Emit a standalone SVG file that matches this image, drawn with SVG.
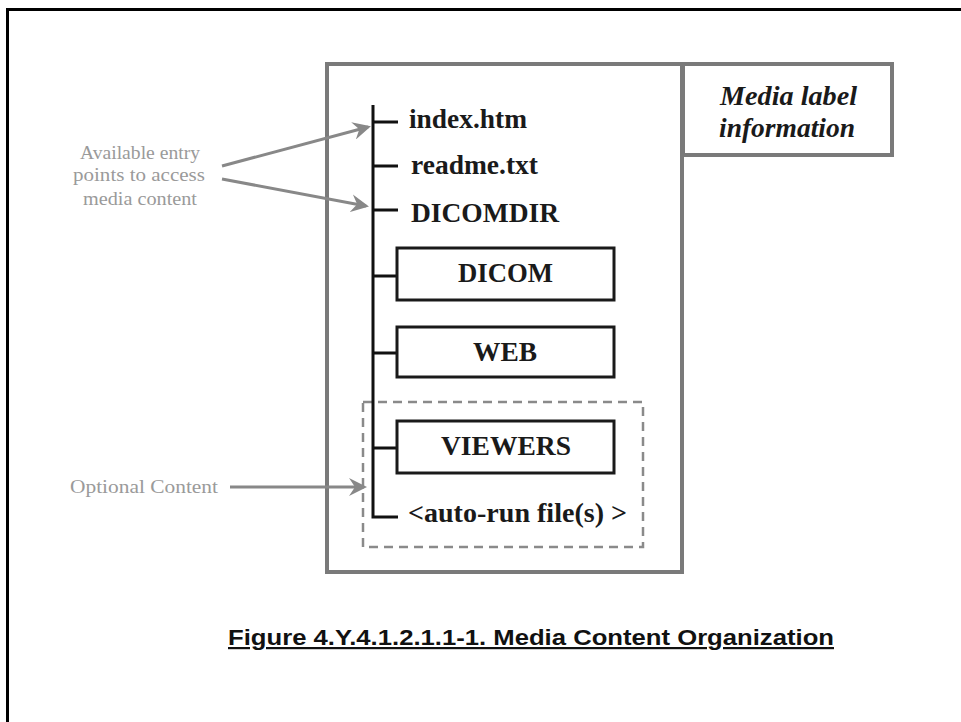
<svg xmlns="http://www.w3.org/2000/svg" width="961" height="722" viewBox="0 0 961 722">
<defs>
<style>
.frame{fill:none;stroke:#000;stroke-width:3}
.gbox{fill:#fff;stroke:#7a7a7a;stroke-width:4}
.box{fill:#fff;stroke:#1a1a1a;stroke-width:3}
.dash{fill:none;stroke:#8a8a8a;stroke-width:2.5;stroke-dasharray:9 6}
.tree{fill:none;stroke:#111;stroke-width:3}
.arrow{fill:none;stroke:#888;stroke-width:3;marker-end:url(#ah)}
.f{font-family:"Liberation Serif","Times New Roman",serif;font-weight:bold;font-size:27px;fill:#1a1a1a}
.lbl{font-family:"Liberation Serif","Times New Roman",serif;font-weight:bold;font-style:italic;font-size:28px;fill:#1a1a1a}
.note{font-family:"Liberation Serif","Times New Roman",serif;font-size:19px;fill:#9a9a9a}
.cap{font-family:"Liberation Sans",Arial,sans-serif;font-weight:bold;font-size:22px;fill:#111;text-decoration:underline}
</style>
<marker id="ah" viewBox="0 0 12 12" refX="10" refY="6" markerWidth="6" markerHeight="6" orient="auto" markerUnits="strokeWidth">
<path d="M0,0 L12,6 L0,12 L4,6 Z" fill="#888"/>
</marker>
</defs>
<rect x="0" y="0" width="961" height="722" fill="#fff"/>
<path class="frame" d="M7.5,722 V9.5 H961"/>

<g id="media-root">
<rect class="gbox" x="327" y="64" width="355" height="508"/>
</g>
<g id="media-label">
<rect class="gbox" x="683" y="64" width="209" height="91"/>
<text class="lbl" x="720" y="105" textLength="137" lengthAdjust="spacingAndGlyphs">Media label</text>
<text class="lbl" x="719" y="137" textLength="136" lengthAdjust="spacingAndGlyphs">information</text>
</g>
<g id="optional-region">
<rect class="dash" x="363" y="402" width="280" height="145"/>
</g>

<g id="connectors">
<path class="tree" d="M373,105 V517 H398"/>
<path class="tree" d="M373,122 H398 M373,166 H398 M373,210 H398 M373,276 H397 M373,353 H397 M373,448 H397"/>
<path class="arrow" d="M222,166 L368,127"/>
<path class="arrow" d="M222,179 L366,206"/>
<path class="arrow" d="M230,487 L364,487"/>
</g>

<g id="index-htm"><text class="f" x="409" y="128" textLength="118" lengthAdjust="spacingAndGlyphs">index.htm</text></g>
<g id="readme-txt"><text class="f" x="411" y="174" textLength="127" lengthAdjust="spacingAndGlyphs">readme.txt</text></g>
<g id="dicomdir"><text class="f" x="411" y="222" textLength="148" lengthAdjust="spacingAndGlyphs">DICOMDIR</text></g>
<g id="dicom">
<rect class="box" x="397" y="248" width="217" height="52"/>
<text class="f" x="458" y="282" textLength="95" lengthAdjust="spacingAndGlyphs">DICOM</text>
</g>
<g id="web">
<rect class="box" x="397" y="327" width="217" height="50"/>
<text class="f" x="473" y="361" textLength="64" lengthAdjust="spacingAndGlyphs">WEB</text>
</g>
<g id="viewers">
<rect class="box" x="397" y="421" width="217" height="52"/>
<text class="f" x="441" y="455" textLength="130" lengthAdjust="spacingAndGlyphs">VIEWERS</text>
</g>
<g id="auto-run"><text class="f" x="408" y="522" textLength="219" lengthAdjust="spacingAndGlyphs">&lt;auto-run file(s) &gt;</text></g>

<g id="entry-note">
<text class="note" x="80" y="159" textLength="120" lengthAdjust="spacingAndGlyphs">Available entry</text>
<text class="note" x="73" y="181" textLength="132" lengthAdjust="spacingAndGlyphs">points to  access</text>
<text class="note" x="83" y="205" textLength="114" lengthAdjust="spacingAndGlyphs">media content</text>
</g>
<g id="optional-note">
<text class="note" x="70" y="493" textLength="148" lengthAdjust="spacingAndGlyphs">Optional  Content</text>
</g>

<g id="caption">
<text class="cap" x="228" y="645" textLength="606" lengthAdjust="spacingAndGlyphs">Figure 4.Y.4.1.2.1.1-1. Media Content Organization</text>
</g>
</svg>
